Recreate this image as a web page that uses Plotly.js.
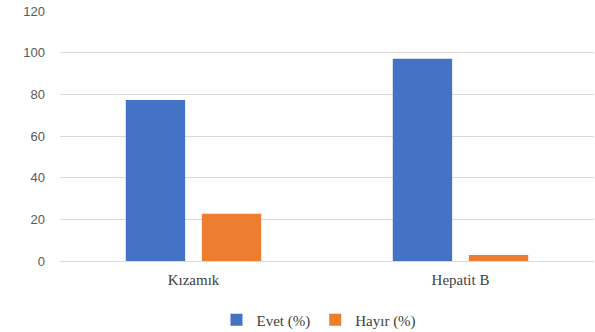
<!DOCTYPE html>
<html>
<head>
<meta charset="utf-8">
<script src="https://cdn.plot.ly/plotly-3.0.1.min.js"></script>
<style>html,body{margin:0;padding:0;background:#fff;}#chart{width:595px;height:332px;}</style>
</head>
<body>
<div id="chart"></div>
<script>
const categories = ["Kızamık", "Hepatit B"];
const evetValues = [77.3, 97.1];
const hayirValues = [22.7, 2.9];
const seriesNames = ["Evet (%)", "Hayır (%)"];
const yTicks = [0, 20, 40, 60, 80, 100, 120];

const SERIF = "'Liberation Serif', 'Times New Roman', serif";

const data = [
  {type: "bar", x: categories, y: evetValues, name: seriesNames[0],
   marker: {color: "#4472C4"}, hoverinfo: "none"},
  {type: "bar", x: categories, y: hayirValues, name: seriesNames[1],
   marker: {color: "#ED7D31"}, hoverinfo: "none"}
];

const layout = {
  width: 595, height: 332,
  font: {family: SERIF},
  margin: {l: 60, r: 1, t: 11, b: 71, pad: 0, autoexpand: false},
  paper_bgcolor: "#fff", plot_bgcolor: "#fff",
  barmode: "group", bargap: 0.43, bargroupgap: 0.22,
  showlegend: true,
  legend: {orientation: "h", x: 0.485, xanchor: "center", yref: "container", y: 0.036, yanchor: "middle",
    font: {family: SERIF, size: 15, color: "#404040"},
    itemwidth: 30, tracegroupgap: 0},
  xaxis: {
    showgrid: false, zeroline: false, showline: false, ticks: "",
    tickfont: {family: SERIF, size: 15, color: "#404040"},
    ticklabelstandoff: 8
  },
  yaxis: {
    range: [0, 120], tickvals: yTicks, ticktext: yTicks.map(String),
    showgrid: true, gridcolor: "#d9d9d9", gridwidth: 1,
    zeroline: true, zerolinecolor: "#d9d9d9", zerolinewidth: 1,
    showline: false, ticks: "",
    tickfont: {family: "'Liberation Sans', Arial, sans-serif", size: 13, color: "#595959"},
    ticklabelstandoff: 14
  }
};

Plotly.newPlot("chart", data, layout, {staticPlot: true, displayModeBar: false});
</script>
</body>
</html>
